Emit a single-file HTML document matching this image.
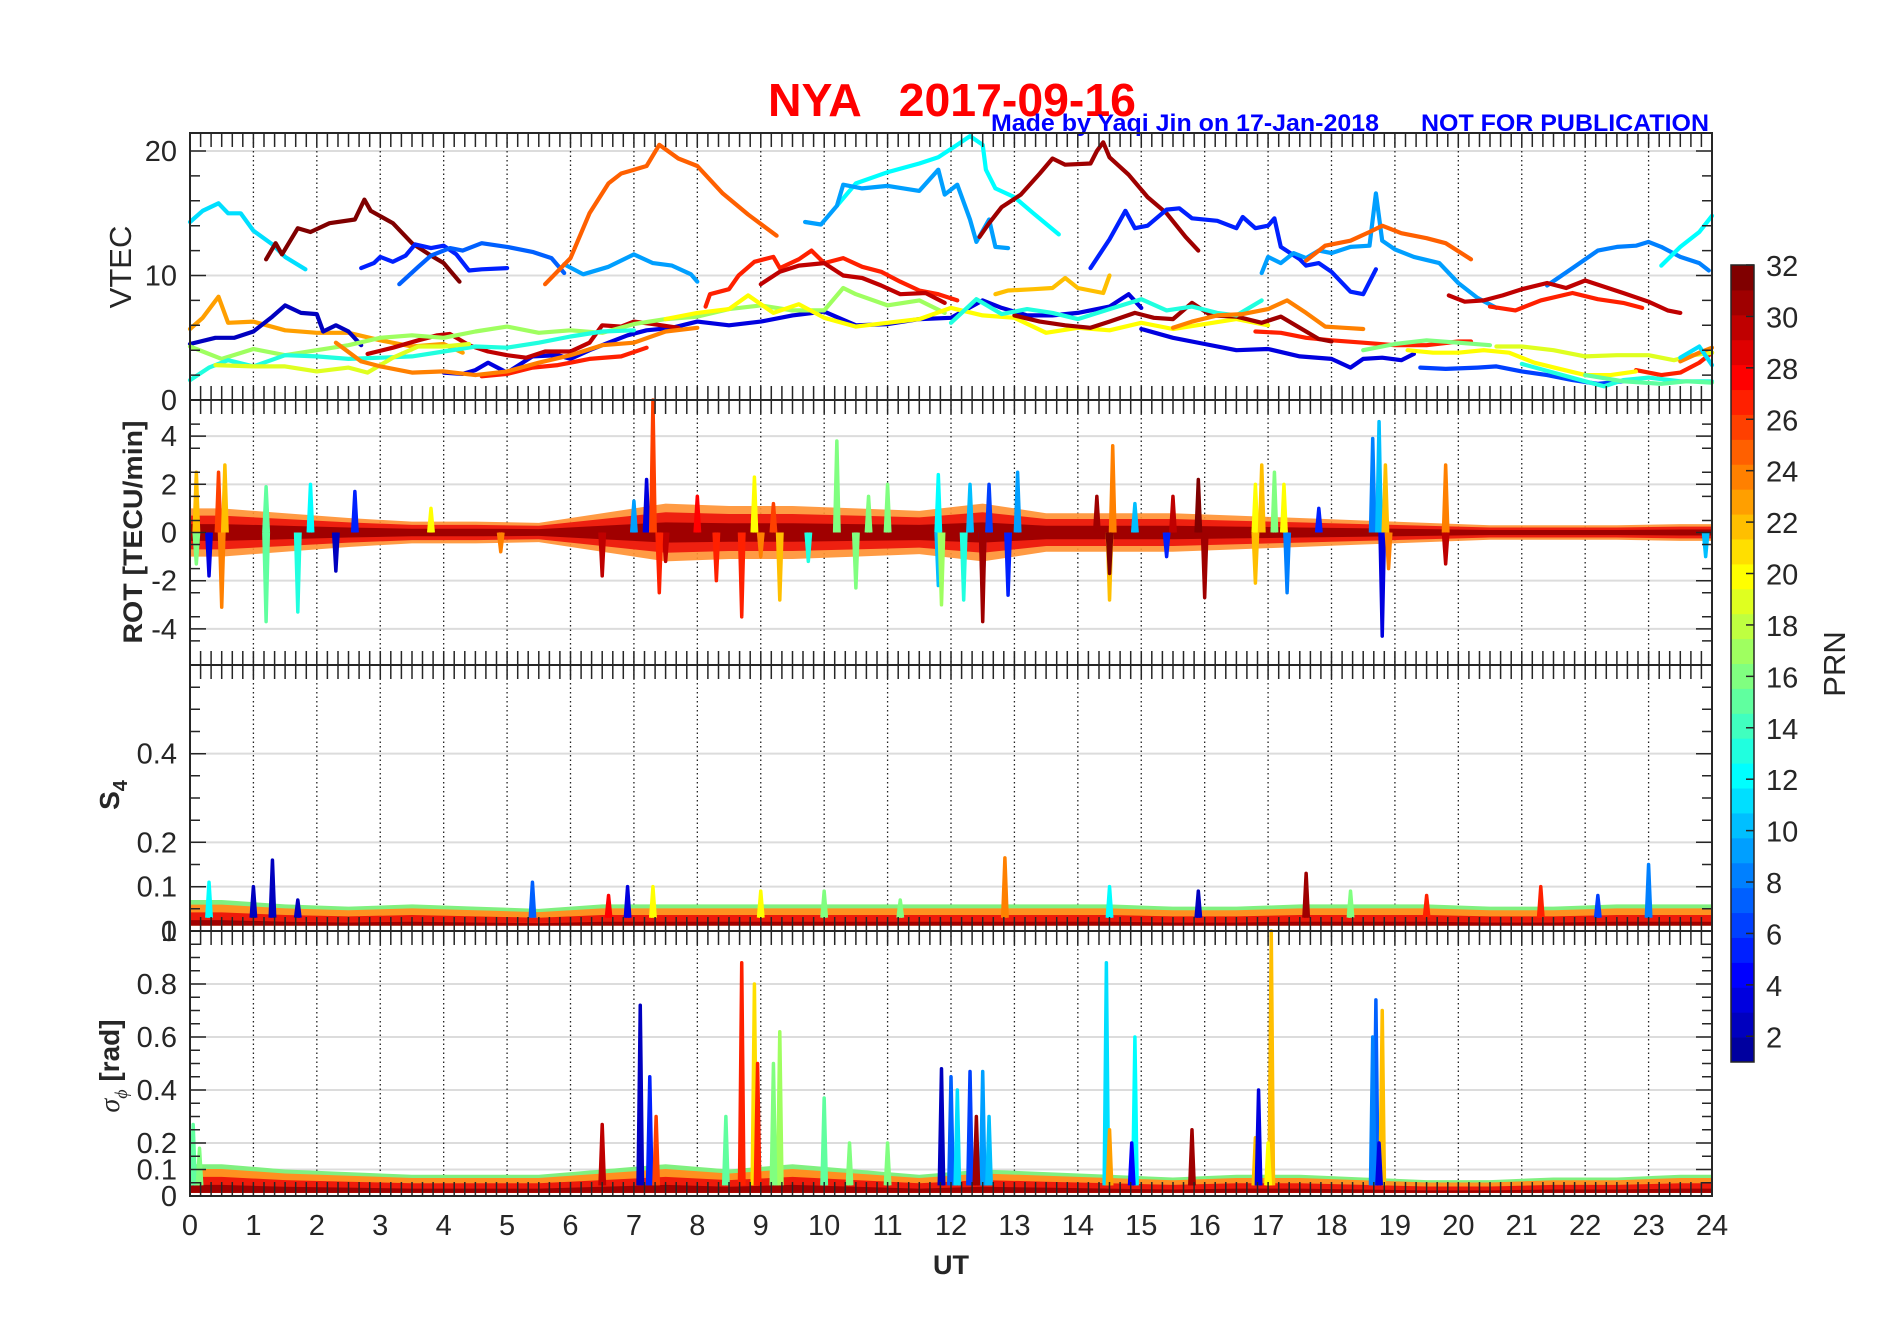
<!DOCTYPE html>
<html><head><meta charset="utf-8"><style>
html,body{margin:0;padding:0;background:#fff;}
svg{display:block;font-family:"Liberation Sans",Arial,sans-serif;}
</style></head>
<body>
<svg id="fig" width="1902" height="1330" viewBox="0 0 1902 1330" xmlns="http://www.w3.org/2000/svg">
<rect x="0" y="0" width="1902" height="1330" fill="#fff"/>
<text x="768" y="116" font-size="46" font-weight="bold" fill="#ff0000" textLength="368" lengthAdjust="spacingAndGlyphs" xml:space="preserve">NYA   2017-09-16</text>
<text x="991" y="131" font-size="24" font-weight="bold" fill="#0000ff" textLength="388" lengthAdjust="spacingAndGlyphs">Made by Yaqi Jin on 17-Jan-2018</text>
<text x="1421" y="131" font-size="24" font-weight="bold" fill="#0000ff" textLength="288" lengthAdjust="spacingAndGlyphs">NOT FOR PUBLICATION</text>
<g id="plots"></g>
<text transform="translate(131,267) rotate(-90)" text-anchor="middle" font-size="31" fill="#262626">VTEC</text>
<text transform="translate(142,532) rotate(-90)" text-anchor="middle" font-size="27" font-weight="bold" fill="#262626" textLength="223" lengthAdjust="spacingAndGlyphs">ROT [TECU/min]</text>
<text transform="translate(119,795) rotate(-90)" text-anchor="middle" font-size="28" font-weight="bold" fill="#262626">S<tspan font-size="20" dy="8">4</tspan></text>
<text transform="translate(119,1066) rotate(-90)" text-anchor="middle" font-size="28" font-weight="bold" fill="#262626"><tspan font-style="italic" font-weight="normal" font-family="Liberation Serif, serif">σ</tspan><tspan font-size="18" dy="8" font-style="italic" font-weight="normal" font-family="Liberation Serif, serif">ϕ</tspan><tspan dy="-8"> [rad]</tspan></text>
<text x="951" y="1274" text-anchor="middle" font-size="27" font-weight="bold" fill="#262626">UT</text>
<text transform="translate(1845,664) rotate(-90)" text-anchor="middle" font-size="31" fill="#262626">PRN</text>
</svg>
<script>
// ---------- data ----------
const hourTicks = [0,1,2,3,4,5,6,7,8,9,10,11,12,13,14,15,16,17,18,19,20,21,22,23,24];
const vtecTicks = [0,10,20];
const rotTicks = [-4,-2,0,2,4];
const s4Ticks = [0,0.1,0.2,0.4];
const sigTicks = [0,0.1,0.2,0.4,0.6,0.8,1];
const prnTicks = [2,4,6,8,10,12,14,16,18,20,22,24,26,28,30,32];

// VTEC arcs: PRN and [hour, TECU] points
const vtecPrn = [11,32,5,7,9,25,12,9,31,5,9,25,8,12,30,27,27,30,23,2,3,27,30,17,20,13,19,24,3,6,27,27,20,19,13,15,24,11,16,31,13,24,22];
const vtecArcs = [
 [[0,14.3],[0.2,15.2],[0.45,15.8],[0.6,15],[0.8,15],[1.0,13.6],[1.3,12.5],[1.5,11.5],[1.82,10.5]],
 [[1.2,11.3],[1.35,12.6],[1.45,11.7],[1.7,13.8],[1.9,13.5],[2.2,14.2],[2.6,14.5],[2.75,16.1],[2.85,15.2],[3.2,14.2],[3.5,12.6],[3.8,11.6],[4.0,11.0],[4.25,9.5]],
 [[2.7,10.6],[2.9,11.0],[3.0,11.5],[3.2,11.1],[3.4,11.6],[3.55,12.5],[3.8,12.2],[4.0,12.4],[4.2,11.7],[4.4,10.4],[4.6,10.5],[5.0,10.6]],
 [[3.3,9.3],[3.6,10.7],[3.8,11.6],[4.1,12.2],[4.3,12.0],[4.6,12.6],[5.0,12.3],[5.4,11.9],[5.7,11.4],[5.9,10.2]],
 [[5.9,10.9],[6.2,10.1],[6.6,10.7],[7.0,11.7],[7.3,11.0],[7.6,10.8],[7.9,10.1],[8.0,9.5]],
 [[5.6,9.3],[6.0,11.4],[6.3,15],[6.6,17.4],[6.8,18.2],[7.2,18.8],[7.4,20.5],[7.7,19.4],[8.0,18.8],[8.4,16.6],[8.8,14.9],[9.25,13.2]],
 [[10.2,15.6],[10.5,17.4],[11,18.3],[11.5,19.0],[11.8,19.5],[12.1,20.5],[12.3,21.2],[12.5,20.5],[12.55,18.5],[12.7,17.0],[13.0,16.3],[13.3,15.0],[13.7,13.3]],
 [[9.7,14.3],[9.95,14.1],[10.2,15.6],[10.3,17.3],[10.6,17.0],[11,17.2],[11.5,16.8],[11.8,18.5],[11.9,16.5],[12.1,17.3],[12.3,14.5],[12.4,12.7],[12.6,14.5],[12.7,12.3],[12.9,12.2]],
 [[12.45,13.1],[12.6,14.2],[12.8,15.5],[13.1,16.5],[13.4,18.2],[13.6,19.4],[13.8,18.9],[14.2,19.0],[14.3,20.0],[14.4,20.7],[14.5,19.5],[14.8,18.1],[15.1,16.3],[15.4,15.0],[15.7,13.1],[15.9,12.0]],
 [[14.2,10.6],[14.5,12.9],[14.75,15.2],[14.9,13.8],[15.1,14.0],[15.4,15.3],[15.6,15.4],[15.8,14.6],[16.2,14.4],[16.5,13.8],[16.6,14.7],[16.8,13.8],[17.0,14.0],[17.1,14.6],[17.2,12.3],[17.5,11.3],[17.6,10.8],[17.8,11.0],[18.0,10.3],[18.3,8.7],[18.5,8.5],[18.7,10.5]],
 [[16.9,10.2],[17.0,11.5],[17.2,11.0],[17.4,11.8],[17.6,11.4],[17.8,12.0],[18.0,11.8],[18.3,12.3],[18.6,12.4],[18.7,16.6],[18.8,12.8],[19.0,12.1],[19.3,11.5],[19.7,11.0],[20.0,9.4],[20.3,8.2],[20.6,7.4]],
 [[17.6,11.2],[17.9,12.4],[18.3,12.8],[18.6,13.5],[18.8,14.0],[19.1,13.4],[19.5,13.0],[19.8,12.6],[20.2,11.3]],
 [[21.4,9.2],[21.8,10.6],[22.2,12.0],[22.5,12.3],[22.8,12.4],[23.0,12.7],[23.2,12.3],[23.5,11.5],[23.8,11.0],[23.95,10.4]],
 [[23.2,10.8],[23.5,12.3],[23.8,13.5],[24,14.8]],
 [[19.85,8.4],[20.1,7.9],[20.4,8.0],[20.7,8.4],[21.0,8.9],[21.4,9.4],[21.7,9.0],[22.0,9.6],[22.3,9.1],[22.6,8.6],[23.0,7.9],[23.3,7.2],[23.5,7.0]],
 [[20.5,7.5],[20.9,7.2],[21.3,8.0],[21.8,8.6],[22.2,8.1],[22.6,7.8],[22.9,7.4]],
 [[8.13,7.5],[8.2,8.5],[8.5,8.9],[8.65,10.0],[8.9,11.1],[9.2,11.5],[9.3,10.6],[9.6,11.3],[9.8,12.0],[10.0,11.0],[10.3,11.4],[10.6,10.7],[10.9,10.3],[11.2,9.5],[11.5,8.8],[11.8,8.5],[12.1,8.0]],
 [[9.0,9.3],[9.3,10.3],[9.6,10.8],[10.0,11.0],[10.3,10.0],[10.6,9.8],[10.9,9.2],[11.2,8.5],[11.6,8.6],[11.9,7.8]],
 [[0,5.7],[0.2,6.6],[0.45,8.3],[0.6,6.2],[1.0,6.3],[1.5,5.6],[2.0,5.4],[2.5,5.4],[3.0,4.8],[3.5,4.3],[4.0,4.5],[4.3,3.8]],
 [[0,4.5],[0.4,5.0],[0.7,5.0],[1.0,5.5],[1.3,6.7],[1.5,7.6],[1.75,7.0],[2.0,6.9],[2.1,5.5],[2.3,6.0],[2.5,5.5],[2.7,4.4]],
 [[4.0,2.2],[4.3,2.1],[4.5,2.4],[4.7,3.0],[5.0,2.2],[5.4,3.5],[5.8,3.6],[6.0,3.3],[6.3,4.0],[6.6,4.6],[6.9,5.2],[7.2,5.6],[7.6,5.8],[8.0,6.3],[8.5,6.0],[9.0,6.3],[9.5,6.8],[10,7.1],[10.5,6.0],[11,6.1],[11.5,6.5],[12,6.6],[12.5,8.0],[12.8,7.4],[13.2,6.8],[13.6,6.8],[14,7.0],[14.5,7.5],[14.8,8.5],[15,7.4]],
 [[4.6,1.9],[5.0,2.1],[5.4,2.6],[5.8,2.8],[6.0,3.0],[6.3,3.3],[6.8,3.5],[7.2,4.2]],
 [[2.8,3.7],[3.2,4.2],[3.6,4.8],[3.9,5.2],[4.1,5.3],[4.4,4.4],[4.7,3.9],[5.0,3.6],[5.3,3.4],[5.6,3.9],[6.0,3.9],[6.3,4.6],[6.5,6.0],[6.8,5.9],[7.0,6.3],[7.3,6.1],[7.7,5.8]],
 [[0,4.3],[0.5,3.3],[1.0,4.1],[1.5,3.6],[2.0,4.0],[2.5,4.4],[3.0,5.0],[3.5,5.2],[4.0,5.0],[4.5,5.5],[5.0,5.9],[5.5,5.4],[6.0,5.6],[6.5,5.4],[7.0,6.1],[7.5,6.5],[8.0,6.7],[8.5,7.3],[9.0,7.6],[9.5,7.2],[10,7.2],[10.3,9.0],[10.5,8.5],[11,7.6],[11.5,8.0],[11.9,7.0]],
 [[7.5,6.5],[8,7.0],[8.5,7.3],[8.8,8.4],[9.2,7.0],[9.6,7.7],[10,6.6],[10.5,5.9],[11,6.2],[11.5,6.5],[12,7.4],[12.5,6.8],[13,6.6],[13.5,5.4],[14,5.8],[14.5,5.6],[15,6.2],[15.5,5.7],[16,6.1],[16.5,6.5],[17,6.0]],
 [[0,1.6],[0.3,2.6],[0.6,3.2],[1,2.7],[1.5,3.6],[2,3.5],[2.5,3.3],[3,3.4],[3.5,3.5],[4,3.9],[4.5,4.3],[5,4.2],[5.5,4.6],[6,5.1],[6.5,5.5],[7,5.6]],
 [[0.4,2.8],[1.0,2.7],[1.5,2.7],[2.0,2.3],[2.5,2.6],[2.8,2.2],[3.2,3.4],[3.6,4.3],[4.0,4.3],[4.4,4.5]],
 [[2.3,4.6],[2.7,3.1],[3.0,2.7],[3.5,2.2],[4.0,2.3],[4.5,2.0],[5.0,2.3],[5.5,3.0],[6,3.6],[6.5,4.4],[7,4.6],[7.5,5.5],[8.0,5.8]],
 [[15,5.7],[15.5,5.0],[16,4.5],[16.5,4.0],[17,4.1],[17.5,3.5],[18,3.3],[18.3,2.6],[18.5,3.3],[18.8,3.4],[19.1,3.2],[19.3,3.7]],
 [[19.4,2.6],[19.8,2.5],[20.3,2.6],[20.6,2.7],[21,2.3],[21.4,2.0],[21.8,1.6],[22.2,1.3],[22.6,1.5]],
 [[16.8,5.5],[17.2,5.4],[17.6,5.0],[18,4.8],[18.5,4.6],[19,4.4],[19.5,4.4],[20,4.7],[20.2,4.7]],
 [[22.8,2.4],[23.2,2.0],[23.5,2.2],[23.8,3.0],[24,3.8]],
 [[19.2,4.0],[19.6,3.8],[20.0,3.8],[20.4,4.0],[20.8,3.8],[21.2,3.0],[21.6,2.5],[22.0,2.0],[22.4,2.0],[22.8,2.3]],
 [[20.6,4.3],[21.0,4.3],[21.5,4.0],[22.0,3.5],[22.5,3.6],[23.0,3.6],[23.4,3.2],[23.7,3.6],[24,3.8]],
 [[21.0,2.9],[21.5,2.2],[22.0,1.5],[22.3,1.1],[22.6,1.6],[23.0,1.8],[23.5,1.5],[24,1.5]],
 [[22,2.0],[22.6,1.5],[23.2,1.3],[23.6,1.5],[24,1.4]],
 [[23.5,3.1],[23.8,3.8],[24,4.2]],
 [[23.5,3.4],[23.8,4.3],[24,2.8]],
 [[18.5,4.0],[19,4.5],[19.5,4.8],[20,4.6],[20.5,4.4]],
 [[13,6.8],[13.4,6.3],[13.8,6.0],[14.2,5.8],[14.5,6.3],[14.9,7.0],[15.2,6.6],[15.5,6.5],[15.8,7.8],[16.1,6.8],[16.5,6.7],[16.9,6.2],[17.2,6.7],[17.5,5.8],[17.8,4.9],[18.0,4.7]],
 [[12.0,6.2],[12.4,8.1],[12.8,6.9],[13.2,7.3],[13.6,7.0],[14.0,6.5],[14.5,7.3],[15,8.1],[15.4,7.2],[15.8,7.5],[16.2,7.0],[16.5,6.8],[16.9,8.0]],
 [[15.5,5.8],[15.8,6.3],[16.2,6.8],[16.6,6.9],[17,7.3],[17.3,8.0],[17.6,7.0],[17.9,5.9],[18.2,5.8],[18.5,5.7]],
 [[12.7,8.5],[12.9,8.8],[13.3,8.9],[13.6,9.0],[13.8,9.8],[14.0,9.0],[14.4,8.6],[14.5,10.0]]
];

// ROT: hourly noise envelope (TECU/min) and spikes [hour, value, PRN]
const rotEnv = [1.0,0.8,0.6,0.45,0.45,0.4,0.8,1.2,1.1,1.1,1.0,0.9,1.2,0.8,0.8,0.8,0.7,0.6,0.5,0.4,0.3,0.3,0.3,0.35];
const rotSpikes = [[0.1,2.5,22],[0.1,-1.3,16],[0.3,-1.8,3],[0.45,2.5,26],[0.5,-3.1,24],[0.55,2.8,22],[1.2,-3.7,15],[1.2,1.9,15],[1.7,-3.3,13],[1.9,2.0,12],[2.3,-1.6,2],[2.6,1.7,5],[3.8,1.0,20],[4.9,-0.8,24],[6.5,-1.8,30],[7.0,1.3,9],[7.2,2.2,3],[7.3,5.5,26],[7.5,-1.2,30],[7.4,-2.5,27],[8.0,1.5,28],[8.3,-2,27],[8.7,-3.5,27],[8.9,2.3,20],[9.0,-1.0,24],[9.3,-2.8,22],[9.2,1.2,26],[9.75,-1.2,13],[10.2,3.8,16],[10.5,-2.3,16],[10.7,1.5,16],[11.0,2.0,16],[11.8,-2.2,10],[11.85,-3.0,17],[11.8,2.4,12],[12.2,-2.8,13],[12.3,2.0,10],[12.5,-2.8,5],[12.5,-3.7,31],[12.9,-2.6,5],[12.6,2.0,6],[13.05,2.5,9],[14.3,1.5,31],[14.5,-2.8,22],[14.55,3.6,24],[14.5,-1.7,32],[14.9,1.2,10],[15.4,-1.0,5],[15.5,1.5,30],[16.0,-2.7,31],[15.9,2.2,32],[16.8,-2.1,22],[16.8,2.0,20],[16.9,2.8,22],[17.1,2.5,16],[17.3,-2.5,8],[17.25,2.0,20],[17.8,1.0,5],[18.65,3.9,8],[18.75,4.6,10],[18.8,-4.3,3],[18.85,2.8,22],[18.9,-1.5,24],[19.8,2.8,24],[19.8,-1.3,30],[23.9,-1.0,10]];

// S4: hourly band upper level and spikes
const s4Band = [0.07,0.06,0.055,0.06,0.055,0.05,0.06,0.06,0.06,0.06,0.06,0.06,0.06,0.06,0.06,0.055,0.055,0.06,0.06,0.06,0.055,0.055,0.06,0.06];
const s4Spikes = [[1.0,0.1,2],[1.3,0.16,2],[1.7,0.07,2],[0.3,0.11,12],[5.4,0.11,7],[6.6,0.08,28],[6.9,0.1,3],[7.3,0.1,20],[10.0,0.09,16],[12.85,0.165,24],[14.5,0.1,12],[15.9,0.09,2],[17.6,0.13,31],[21.3,0.1,27],[23.0,0.15,8],[18.3,0.09,16],[19.5,0.08,27],[22.2,0.08,6],[9.0,0.09,20],[11.2,0.07,16]];

// sigma-phi: hourly band upper level and spikes
const sigBand = [0.12,0.1,0.09,0.08,0.08,0.08,0.1,0.12,0.1,0.12,0.1,0.08,0.1,0.09,0.08,0.07,0.08,0.08,0.07,0.06,0.06,0.07,0.07,0.08];
const sigSpikes = [[0.05,0.27,15],[0.15,0.18,16],[6.5,0.27,30],[7.1,0.72,2],[7.25,0.45,5],[7.35,0.3,26],[8.7,0.88,27],[8.9,0.8,21],[8.95,0.5,27],[9.3,0.62,17],[9.2,0.5,16],[8.45,0.3,15],[10.0,0.37,15],[10.4,0.2,16],[11.0,0.2,16],[11.85,0.48,2],[12.0,0.45,7],[12.1,0.4,11],[12.3,0.47,6],[12.5,0.47,9],[12.4,0.3,31],[12.6,0.3,10],[14.45,0.88,11],[14.5,0.25,23],[14.9,0.6,12],[14.85,0.2,4],[15.8,0.25,31],[16.8,0.22,22],[16.85,0.4,3],[17.05,1.0,22],[17.0,0.2,20],[18.7,0.74,7],[18.8,0.7,22],[18.65,0.6,8],[18.75,0.2,3]];

// ---------- rendering ----------
const NS = 'http://www.w3.org/2000/svg';
const root = document.getElementById('plots');
const X0 = 190, X1 = 1712;
const xs = h => X0 + (h / 24) * (X1 - X0);
const panels = [
  {name:'vtec', top:133, bot:400, min:0, max:21.45, ticks:vtecTicks, minor:2},
  {name:'rot', top:400, bot:665, min:-5.5, max:5.5, ticks:rotTicks, minor:1},
  {name:'s4', top:665, bot:931, min:0, max:0.6, ticks:s4Ticks, minor:0.05},
  {name:'sigma', top:931, bot:1196, min:0, max:1.0, ticks:sigTicks, minor:0.05}
];
function ys(p, v){ return p.bot - (v - p.min) / (p.max - p.min) * (p.bot - p.top); }
function el(tag, attrs, parent){ const e = document.createElementNS(NS, tag); for (const k in attrs) e.setAttribute(k, attrs[k]); (parent || root).appendChild(e); return e; }

function jet(i){ // MATLAB jet(32), row i in 1..32
  const n = 8, u = [];
  for (let k = 1; k <= n; k++) u.push(k / n);
  for (let k = 0; k < n - 1; k++) u.push(1);
  for (let k = n; k >= 1; k--) u.push(k / n);
  const get = j => (j >= 1 && j <= 23) ? u[j - 1] : 0;
  const r = get(i - 12), g = get(i - 4), b = get(i + 4);
  return 'rgb(' + Math.round(r*255) + ',' + Math.round(g*255) + ',' + Math.round(b*255) + ')';
}

panels.forEach(p => {
  const g = el('g', {});
  
  
  p.g = g;
  p.ticks.forEach(t => {
    if (t === p.min || t === p.max) return;
    const l = el('line', {x1:X0, x2:X1, y1:ys(p,t), y2:ys(p,t), stroke:'#dcdcdc', 'stroke-width':2}, g);
    
    
  });
  hourTicks.forEach(h => {
    if (h === 0 || h === 24) return;
    const l = el('line', {x1:xs(h), x2:xs(h), y1:p.top, y2:p.bot, stroke:'#222', 'stroke-width':1.3, 'stroke-dasharray':'1.5,3'}, g);
    
    
  });
});

// VTEC arcs
const pv = panels[0];
vtecArcs.forEach((arc, i) => {
  const pts = arc.map(d => xs(d[0]).toFixed(1) + ',' + ys(pv, d[1]).toFixed(1)).join(' ');
  const l = el('polyline', {points:pts, fill:'none', stroke:jet(vtecPrn[i]), 'stroke-width':4.2, 'stroke-linejoin':'round', 'stroke-linecap':'round'}, pv.g);
  
  
});

// smooth envelope points at hour midpoints
function envPts(p, arr, scale, sign){
  const pts = [xs(0) + ',' + ys(p, sign*arr[0]*scale)];
  arr.forEach((a, i) => pts.push(xs(i + 0.5) + ',' + ys(p, sign*a*scale)));
  pts.push(xs(24) + ',' + ys(p, sign*arr[arr.length-1]*scale));
  return pts;
}
const pr = panels[1];
[[1.0,'#ff9030',0.9],[0.7,'#ee2010',1],[0.35,'#a00000',1]].forEach(([sc, col, op], k) => {
  const pts = envPts(pr, rotEnv, sc, 1).concat(envPts(pr, rotEnv, sc, -1).reverse());
  const b = el('polygon', {points: pts.join(' '), fill:col, opacity:op}, pr.g);
  
  
});
function spikes(p, arr, base, name){
  arr.forEach(s => {
    const w = 0.035;
    const pts = xs(s[0]-w) + ',' + ys(p, base) + ' ' + xs(s[0]) + ',' + ys(p, s[1]) + ' ' + xs(s[0]+w) + ',' + ys(p, base);
    const l = el('polyline', {points:pts, fill:jet(s[2]), stroke:jet(s[2]), 'stroke-width':3.5, 'stroke-linejoin':'round'}, p.g);
    
    
  });
}
spikes(pr, rotSpikes, 0, 'rot');

function band(p, arr, name){
  [[1.0,'#80f080'],[0.85,'#ff9020'],[0.6,'#ee1a0a'],[0.35,'#a00000']].forEach(([sc, col]) => {
    const pts = envPts(p, arr, sc, 1).concat([xs(24) + ',' + ys(p, 0.012), xs(0) + ',' + ys(p, 0.012)]);
    const b = el('polygon', {points:pts.join(' '), fill:col}, p.g);
    
    
  });
}
band(panels[2], s4Band, 's4');
spikes(panels[2], s4Spikes, 0.03, 's4');
band(panels[3], sigBand, 'sigma');
spikes(panels[3], sigSpikes, 0.04, 'sigma');

// axes boxes, ticks, labels
panels.forEach((p, pi) => {
  const g = el('g', {});
  
  
  const r = el('rect', {x:X0, y:p.top, width:X1-X0, height:p.bot-p.top, fill:'none', stroke:'#262626', 'stroke-width':2}, g);
  
  
  let d = '';
  for (let k = 0; k <= 144; k++) {
    const x = xs(k / 6).toFixed(1);
    d += 'M' + x + ' ' + p.top + 'v14M' + x + ' ' + p.bot + 'v-14';
  }
  for (let v = p.min; v <= p.max + 1e-9; v += p.minor) {
    const y = ys(p, v).toFixed(1);
    d += 'M' + X0 + ' ' + y + 'h10M' + X1 + ' ' + y + 'h-10';
  }
  p.ticks.forEach(t => { const y = ys(p,t).toFixed(1); d += 'M' + X0 + ' ' + y + 'h16M' + X1 + ' ' + y + 'h-16'; });
  const tk = el('path', {d:d, stroke:'#262626', 'stroke-width':1.5, fill:'none'}, g);
  
  
  p.ticks.forEach(t => {
    const tx = el('text', {x:177, y:(ys(p,t) + 10).toFixed(1), 'text-anchor':'end', 'font-size':29, fill:'#262626'}, g);
    tx.textContent = String(t);
    
    
  });
});

hourTicks.forEach(h => {
  const t = el('text', {x:xs(h), y:1235, 'text-anchor':'middle', 'font-size':29, fill:'#262626'});
  t.textContent = String(h);
  
  
});

// colorbar
const CB = {x:1731, w:23, top:265, bot:1062};
const cbg = el('g', {});


const binH = (CB.bot - CB.top) / 32;
for (let i = 1; i <= 32; i++) {
  const r = el('rect', {x:CB.x, y:(CB.bot - i*binH).toFixed(2), width:CB.w, height:(binH+0.5).toFixed(2), fill:jet(i)}, cbg);
  
  
}
const cbBox = el('rect', {x:CB.x, y:CB.top, width:CB.w, height:CB.bot-CB.top, fill:'none', stroke:'#262626', 'stroke-width':1.5}, cbg);


prnTicks.forEach(v => {
  const y = CB.bot - (v - 1) / 31 * (CB.bot - CB.top);
  const l = el('line', {x1:CB.x+CB.w-8, x2:CB.x+CB.w, y1:y, y2:y, stroke:'#262626', 'stroke-width':1.5}, cbg);
  
  
  const t = el('text', {x:1766, y:(y + 11).toFixed(1), 'font-size':29, fill:'#262626'}, cbg);
  t.textContent = String(v);
  
  
});
</script>
</body></html>
